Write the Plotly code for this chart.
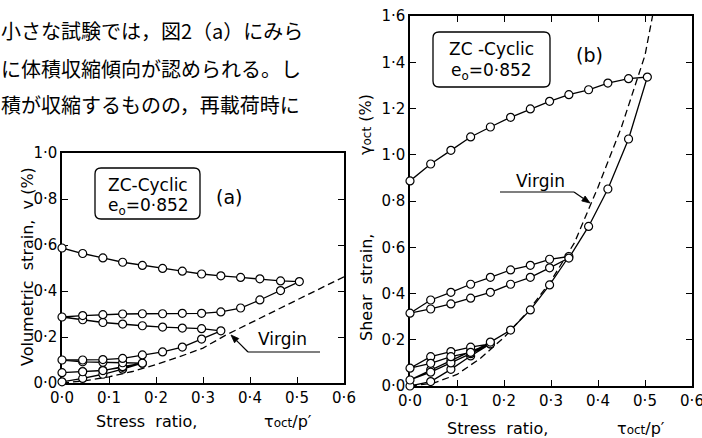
import math
import plotly.graph_objects as go

W, H = 702, 438

# ---------------- data ----------------
tau = [0.0, 0.044, 0.087, 0.129, 0.171, 0.214, 0.256, 0.297, 0.338, 0.380, 0.421, 0.465, 0.505]

# panel (a): volumetric strain v (%)
a_load1 = [0.005, 0.02, 0.038, 0.06, 0.086]
a_unload1 = [0.086, 0.068, 0.055, 0.05, 0.045]
a_load2 = [0.045, 0.049, 0.054, 0.071, 0.086]
a_unload2 = [0.086, 0.088, 0.09, 0.092, 0.10]
a_load3 = [0.10, 0.10, 0.102, 0.107, 0.122, 0.135, 0.156, 0.191, 0.227]
a_unload3 = [0.227, 0.236, 0.239, 0.243, 0.249, 0.256, 0.263, 0.275, 0.287]
a_load4 = [0.287, 0.293, 0.297, 0.300, 0.301, 0.301, 0.303, 0.303, 0.309, 0.326, 0.361, 0.402, 0.441]
a_unload4 = [0.441, 0.444, 0.453, 0.459, 0.466, 0.474, 0.486, 0.498, 0.511, 0.525, 0.544, 0.563, 0.587]
a_virgin_x = [0.0, 0.05, 0.1, 0.15, 0.2, 0.25, 0.3, 0.35, 0.4, 0.45, 0.5, 0.55, 0.6]
a_virgin_y = [0.0, 0.01, 0.027, 0.05, 0.08, 0.114, 0.152, 0.21, 0.26, 0.31, 0.36, 0.41, 0.462]

# panel (b): shear strain gamma_oct (%)
b_load1 = [0.0, 0.019, 0.072, 0.13, 0.182]
b_unload1 = [0.182, 0.15, 0.11, 0.07, 0.026]
b_load2 = [0.026, 0.06, 0.10, 0.14, 0.182]
b_unload2 = [0.182, 0.168, 0.149, 0.127, 0.077]
b_load3 = [0.077, 0.098, 0.127, 0.145, 0.19, 0.242, 0.329, 0.437, 0.56]
b_unload3 = [0.56, 0.548, 0.522, 0.502, 0.470, 0.440, 0.405, 0.372, 0.315]
b_load4 = [0.315, 0.333, 0.355, 0.380, 0.405, 0.440, 0.470, 0.511, 0.553, 0.690, 0.852, 1.068, 1.336]
b_unload4 = [1.336, 1.329, 1.310, 1.281, 1.260, 1.231, 1.198, 1.162, 1.120, 1.077, 1.019, 0.960, 0.887]
b_virgin_x = [0.0, 0.05, 0.1, 0.15, 0.2, 0.25, 0.3, 0.35, 0.4, 0.45, 0.5, 0.516]
b_virgin_y = [0.0, 0.012, 0.05, 0.12, 0.21, 0.32, 0.455, 0.62, 0.86, 1.12, 1.43, 1.6]

x_ticks = [0.0, 0.1, 0.2, 0.3, 0.4, 0.5, 0.6]
x_ticktext = ["0·0", "0·1", "0·2", "0·3", "0·4", "0·5", "0·6"]
ya_ticks = [0.0, 0.2, 0.4, 0.6, 0.8, 1.0]
ya_ticktext = ["0·0", "0·2", "0·4", "0·6", "0·8", "1·0"]
yb_ticks = [0.0, 0.2, 0.4, 0.6, 0.8, 1.0, 1.2, 1.4, 1.6]
yb_ticktext = ["0·0", "0·2", "0·4", "0·6", "0·8", "1·0", "1·2", "1·4", "1·6"]

jp_lines = ["小さな試験では，図2（a）にみら",
            "に体積収縮傾向が認められる。し",
            "積が収縮するものの，再載荷時に"]

# ---------------- helpers ----------------
def X(v):
    return v / W

def Y(v):
    return 1 - v / H

def path_xy(segments):
    xs, ys = [], []
    for direction, n, vals in segments:
        xv = tau[:n] if direction == "up" else tau[:n][::-1]
        if xs:
            xv, vals = xv[1:], vals[1:]
        xs += list(xv)
        ys += list(vals)
    return xs, ys

a_x, a_y = path_xy([("up", 5, a_load1), ("down", 5, a_unload1), ("up", 5, a_load2),
                    ("down", 5, a_unload2), ("up", 9, a_load3), ("down", 9, a_unload3),
                    ("up", 13, a_load4), ("down", 13, a_unload4)])
b_x, b_y = path_xy([("up", 5, b_load1), ("down", 5, b_unload1), ("up", 5, b_load2),
                    ("down", 5, b_unload2), ("up", 9, b_load3), ("down", 9, b_unload3),
                    ("up", 13, b_load4), ("down", 13, b_unload4)])

FONT = "DejaVu Sans"
line_style = dict(color="black", width=1.3)
marker_style = dict(symbol="circle", size=8, color="white", line=dict(color="black", width=1.2))
dash_style = dict(color="black", width=1.3, dash="7px,4px")

fig = go.Figure()
fig.add_trace(go.Scatter(x=a_virgin_x, y=a_virgin_y, mode="lines", xaxis="x", yaxis="y",
                         line=dash_style, cliponaxis=False, showlegend=False, hoverinfo="skip"))
fig.add_trace(go.Scatter(x=a_x, y=a_y, mode="lines+markers", xaxis="x", yaxis="y",
                         line=line_style, marker=marker_style, cliponaxis=False, showlegend=False))
fig.add_trace(go.Scatter(x=b_virgin_x, y=b_virgin_y, mode="lines", xaxis="x2", yaxis="y2",
                         line=dash_style, cliponaxis=False, showlegend=False, hoverinfo="skip"))
fig.add_trace(go.Scatter(x=b_x, y=b_y, mode="lines+markers", xaxis="x2", yaxis="y2",
                         line=line_style, marker=marker_style, cliponaxis=False, showlegend=False))

axis_common = dict(showgrid=False, zeroline=False, showline=True, linecolor="black", linewidth=1.5,
                   ticks="inside", ticklen=6, tickwidth=1.2, tickcolor="black", automargin=False,
                   tickfont=dict(family=FONT, size=15, color="black"), layer="below traces",
                   ticklabeloverflow="allow")

fig.update_layout(
    width=W, height=H, margin=dict(l=0, r=0, t=0, b=0, pad=0),
    paper_bgcolor="white", plot_bgcolor="white", showlegend=False,
    xaxis=dict(domain=[X(62), X(344)], range=[0, 0.6], anchor="y", mirror=True,
               tickvals=x_ticks, ticktext=x_ticktext, **axis_common),
    yaxis=dict(domain=[Y(383), Y(153)], range=[0, 1.0], anchor="x", mirror="ticks",
               tickvals=ya_ticks, ticktext=ya_ticktext, **axis_common),
    xaxis2=dict(domain=[X(410), X(692)], range=[0, 0.6], anchor="y2", mirror="ticks",
                tickvals=x_ticks, ticktext=x_ticktext, **axis_common),
    yaxis2=dict(domain=[Y(386), Y(16)], range=[0, 1.6], anchor="x2", mirror="ticks",
                tickvals=yb_ticks, ticktext=yb_ticktext, **axis_common),
)

def rrect(x0, y0, x1, y1, r=6):
    return (f"M {X(x0+r)},{Y(y0)} L {X(x1-r)},{Y(y0)} Q {X(x1)},{Y(y0)} {X(x1)},{Y(y0+r)} "
            f"L {X(x1)},{Y(y1-r)} Q {X(x1)},{Y(y1)} {X(x1-r)},{Y(y1)} "
            f"L {X(x0+r)},{Y(y1)} Q {X(x0)},{Y(y1)} {X(x0)},{Y(y1-r)} "
            f"L {X(x0)},{Y(y0+r)} Q {X(x0)},{Y(y0)} {X(x0+r)},{Y(y0)} Z")

def arrow_shapes(tail, head, length=8, half=3):
    dx, dy = head[0] - tail[0], head[1] - tail[1]
    n = math.hypot(dx, dy)
    ux, uy = dx / n, dy / n
    bx, by = head[0] - length * ux, head[1] - length * uy
    px, py = -uy, ux
    p1 = (bx + half * px, by + half * py)
    p2 = (bx - half * px, by - half * py)
    tri = (f"M {X(head[0])},{Y(head[1])} L {X(p1[0])},{Y(p1[1])} "
           f"L {X(p2[0])},{Y(p2[1])} Z")
    return [
        dict(type="line", xref="paper", yref="paper", x0=X(tail[0]), y0=Y(tail[1]),
             x1=X(bx), y1=Y(by), line=dict(color="black", width=1.2)),
        dict(type="path", xref="paper", yref="paper", path=tri, fillcolor="black",
             line=dict(color="black", width=0.8)),
    ]

shapes = [
    dict(type="path", xref="paper", yref="paper", path=rrect(95, 168, 200, 219),
         line=dict(color="black", width=1.3)),
    dict(type="path", xref="paper", yref="paper", path=rrect(433, 32, 550, 87),
         line=dict(color="black", width=1.3)),
    dict(type="line", xref="paper", yref="paper", x0=X(248), y0=Y(352), x1=X(320), y1=Y(352),
         line=dict(color="black", width=1.2)),
    dict(type="line", xref="paper", yref="paper", x0=X(500), y0=Y(192), x1=X(574), y1=Y(192),
         line=dict(color="black", width=1.2)),
]
shapes += arrow_shapes((248, 352), (231, 335))
shapes += arrow_shapes((574, 192), (590, 203))
fig.update_layout(shapes=shapes)

def txt(s, x, y, size=16, family=FONT, xanchor="center", angle=0):
    return dict(text=s, x=X(x), y=Y(y), xref="paper", yref="paper", showarrow=False,
                xanchor=xanchor, yanchor="middle", textangle=angle,
                font=dict(family=family, size=size, color="black"))

ann = []
for s, yy in zip(jp_lines, [30, 69, 105]):
    ann.append(txt(s, -1, yy, size=20, family="Noto Sans CJK JP", xanchor="left"))
ann.append(txt("ZC-Cyclic", 148, 185, size=17))
ann.append(txt("e<sub>o</sub>=0·852", 148, 206, size=17))
ann.append(txt("(a)", 229, 197, size=19))
ann.append(txt("ZC -Cyclic", 491, 49, size=17))
ann.append(txt("e<sub>o</sub>=0·852", 491, 71, size=17))
ann.append(txt("(b)", 589, 55, size=19))
ann.append(txt("Virgin", 282, 339, size=17))
ann.append(txt("Virgin", 540, 181, size=17))
ann.append(txt("Volumetric  strain,  v (%)", 27, 267, size=16, angle=-90))
ann.append(txt("Shear  strain,", 366, 288, size=16, angle=-90))
ann.append(txt("γ<span style='font-size:12px'>oct</span> (%)", 366, 125, size=16, angle=-90))
ann.append(txt("Stress  ratio,", 146, 421, size=16))
ann.append(txt("τ<span style='font-size:12px'>oct</span>/p′", 288, 421, size=16))
ann.append(txt("Stress  ratio,", 497, 428, size=16))
ann.append(txt("τ<span style='font-size:12px'>oct</span>/p′", 641, 428, size=16))
fig.update_layout(annotations=ann)

fig.write_html("out.html", config={"displayModeBar": False},
               post_script="document.body.style.margin='0px';document.body.style.overflow='hidden';")
